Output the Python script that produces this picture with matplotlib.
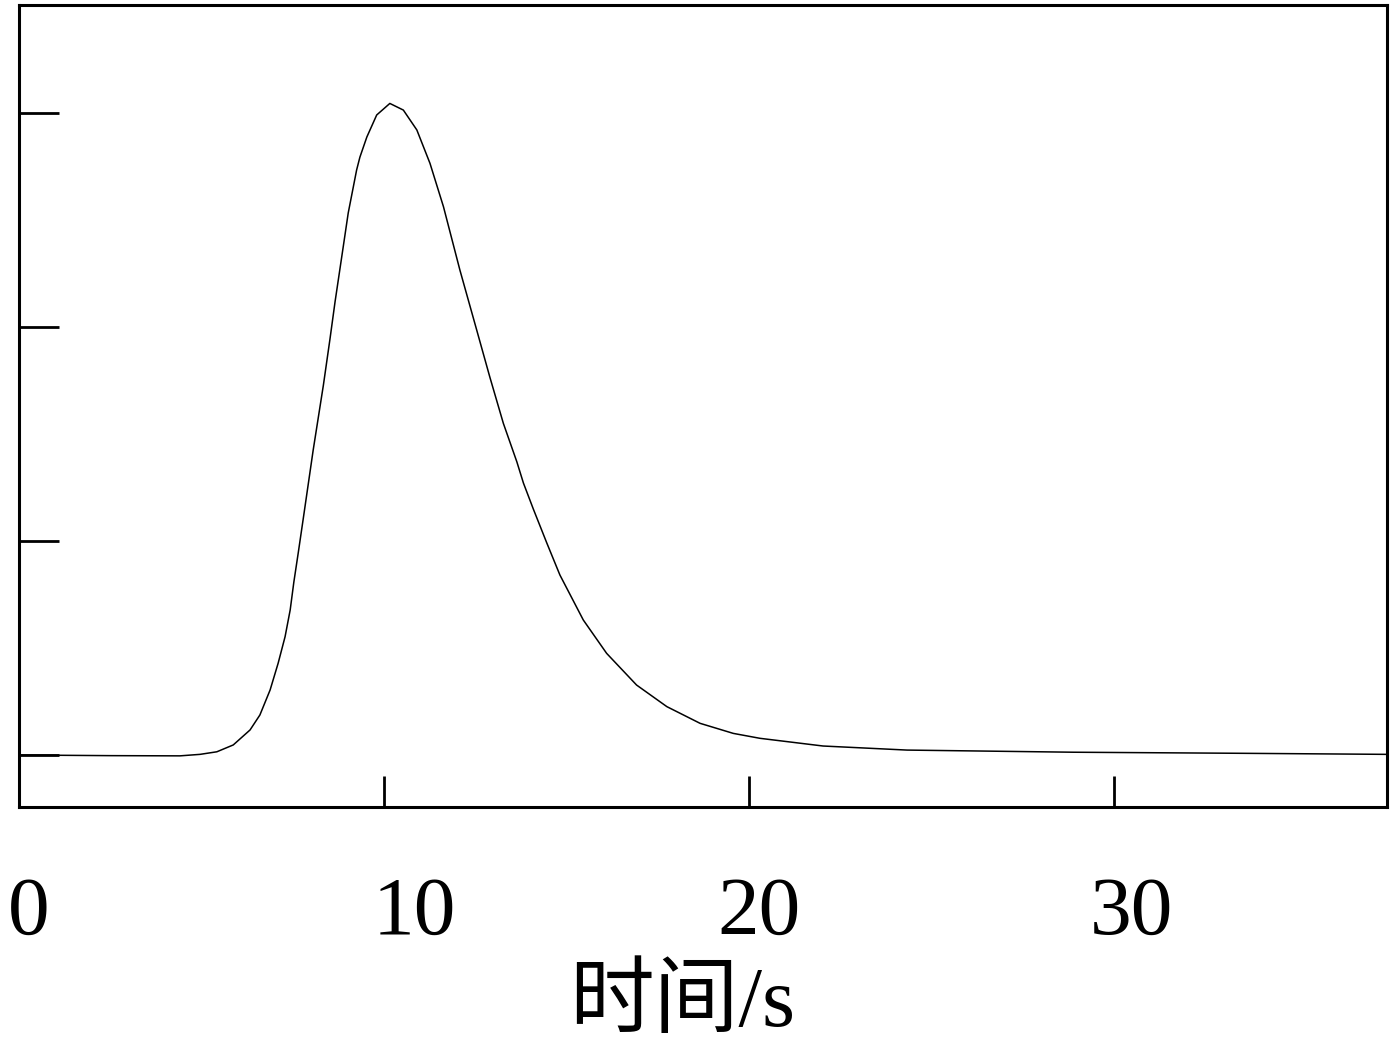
import numpy as np
import matplotlib
matplotlib.use("Agg")
import matplotlib.pyplot as plt
from matplotlib.transforms import ScaledTranslation

# values
time_s = [0.0, 2.5, 4.41, 4.96, 5.42, 5.87, 6.33, 6.60, 6.88, 7.10, 7.29,
          7.43, 7.53, 7.65, 7.79, 8.06, 8.34, 8.52, 8.66, 8.89, 9.02, 9.25,
          9.34, 9.53, 9.80, 10.16, 10.53, 10.90, 11.26, 11.63, 12.08, 12.54,
          12.90, 13.27, 13.64, 13.82, 14.09, 14.46, 14.82, 15.46, 16.10,
          16.92, 17.75, 18.66, 19.57, 20.30, 22.03, 24.33, 28.88, 33.45,
          37.48]
signal = [0.0, -0.003, -0.004, 0.003, 0.015, 0.047, 0.117, 0.187, 0.304,
          0.429, 0.553, 0.678, 0.808, 0.944, 1.107, 1.425, 1.729, 1.944,
          2.119, 2.383, 2.533, 2.734, 2.794, 2.888, 2.991, 3.045, 3.014,
          2.921, 2.765, 2.562, 2.266, 1.986, 1.766, 1.550, 1.370, 1.271,
          1.150, 0.991, 0.841, 0.631, 0.475, 0.327, 0.226, 0.148, 0.101,
          0.078, 0.042, 0.023, 0.013, 0.008, 0.003]

x_ticks = [0, 10, 20, 30]
x_tick_labels = ["0", "10", "20", "30"]
y_ticks = [0, 1, 2, 3]
x_label = "时间/s"

fig = plt.figure(figsize=(14, 10.5), dpi=100)
ax = fig.add_axes([19/1400, 1 - 807/1050, (1387 - 19)/1400, (807 - 5)/1050])

ax.plot(time_s, signal, color="black", linewidth=1.1)

ax.set_xlim(0, 37.48)
ax.set_ylim(-0.243, 3.505)

for sp in ax.spines.values():
    sp.set_linewidth(2.2)

ax.set_xticks(x_ticks)
ax.set_xticklabels(x_tick_labels, family=["Liberation Serif"], fontsize=60)
ax.tick_params(axis="x", direction="in", length=22, width=2, pad=50)
ax.set_yticks(y_ticks)
ax.set_yticklabels([])
ax.tick_params(axis="y", direction="in", length=29, width=2)

# the printed labels sit a bit right of their ticks (pixels)
label_shift = [10, 30, 10, 17]
for lab, dx in zip(ax.get_xticklabels(), label_shift):
    lab.set_transform(lab.get_transform()
                      + ScaledTranslation(dx/100, 0, fig.dpi_scale_trans))

fig.text(682/1400, 1 - 1026/1050, x_label, ha="center", va="baseline",
         family=["Liberation Serif", "Noto Sans CJK SC"], fontsize=61)

fig.savefig("out.png", dpi=100)
